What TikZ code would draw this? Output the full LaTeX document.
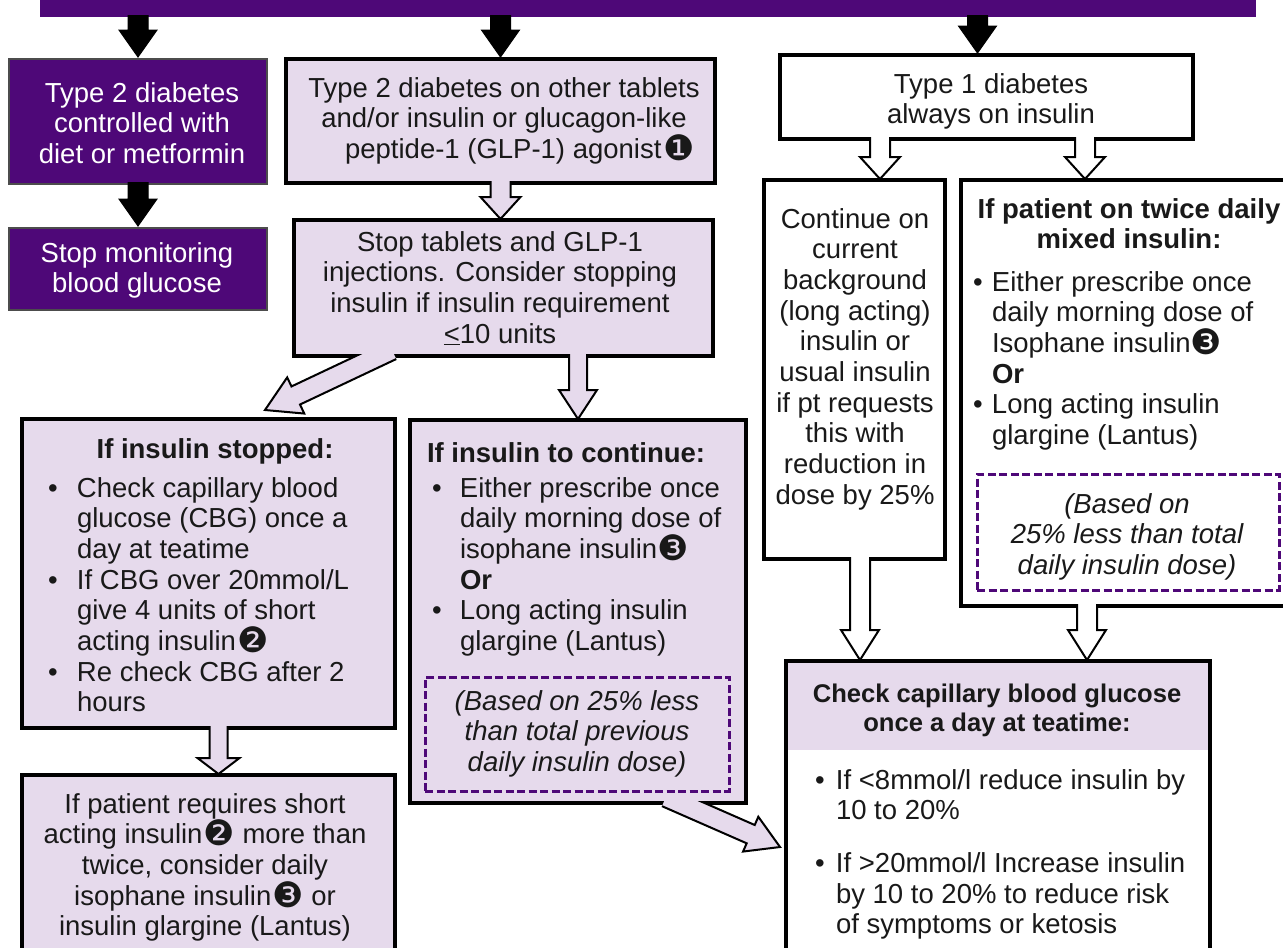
\documentclass[tikz,border=0pt]{standalone}
\usepackage{fontspec}
\setmainfont{Liberation Sans}
\newfontfamily\dingfont{DejaVu Sans}
\usetikzlibrary{calc}
\definecolor{dpurple}{RGB}{78,8,120}
\definecolor{lav}{RGB}{230,218,236}
\definecolor{ink}{RGB}{25,25,25}
\newcommand\fs{\fontsize{27.5}{30.7}\selectfont}
\newcommand\fsh{\fontsize{25.6}{29}\selectfont}
\newcommand\dg[1]{\smash{\raisebox{-2pt}{\fontsize{35}{30.7}\dingfont #1}}}
\newcommand\bu[1]{\makebox[#1][l]{\textbullet}}
\newcommand\ctab[1]{\begin{tabular}[t]{@{}c@{}}#1\end{tabular}}
\newcommand\btab[1]{\begin{tabular}[t]{@{}l@{}l@{}}#1\end{tabular}}
% #1 style, #2 start, #3 tip, #4 half shaft, #5 half head, #6 head length
\newcommand\blockarr[6]{%
  \coordinate (bas) at (#2);
  \coordinate (bae) at (#3);
  \coordinate (bah) at ($(bae)!#6pt!(bas)$);
  \filldraw[#1] ($(bas)!#4pt!90:(bae)$) -- ($(bah)!#4pt!90:(bae)$) -- ($(bah)!#5pt!90:(bae)$) -- (bae) -- ($(bah)!#5pt!-90:(bae)$) -- ($(bah)!#4pt!-90:(bae)$) -- ($(bas)!#4pt!-90:(bae)$);
}
\begin{document}
\begin{tikzpicture}[x=1pt,y=-1pt,
  boxbase/.style={inner sep=0pt, outer sep=0pt, anchor=north west},
  lbox/.style={boxbase, draw=black, line width=4pt, fill=lav},
  wbox/.style={boxbase, draw=black, line width=4pt, fill=white},
  pbox/.style={boxbase, draw=black!70, line width=1.2pt, fill=dpurple},
  dbox/.style={boxbase, draw=dpurple, line width=3pt, dash pattern=on 8pt off 3.5pt},
  blk/.style={fill=black, draw=black, line width=1pt},
  hol/.style={fill=lav, draw=black, line width=2pt, line join=miter},
  wht/.style={fill=white, draw=black, line width=2pt, line join=miter},
  txt/.style={inner sep=0pt, outer sep=0pt, font=\fs, anchor=base, text=ink},
  txtl/.style={txt, anchor=base west}]
\useasboundingbox (0,0) rectangle (1283,948);

% top bar
\node[boxbase, fill=dpurple, minimum width=1216pt, minimum height=27pt] (bar) at (40,-10) {};

% boxes
\node[pbox, minimum width=258pt, minimum height=125pt] (A) at (9,59) {};
\node[pbox, minimum width=258pt, minimum height=82pt] (B) at (9,228) {};
\node[lbox, minimum width=429pt, minimum height=124pt] (C) at (286,59) {};
\node[lbox, minimum width=419pt, minimum height=136pt] (D) at (294,220) {};
\node[lbox, minimum width=373pt, minimum height=309pt] (E) at (22,419) {};
\node[lbox, minimum width=336pt, minimum height=383pt] (F) at (410,420) {};
\node[lbox, minimum width=373pt, minimum height=200pt] (G) at (22,775) {};
\node[wbox, minimum width=413pt, minimum height=84pt] (I) at (780,55) {};
\node[wbox, minimum width=181pt, minimum height=379pt] (J) at (764,180) {};
\node[wbox, minimum width=340pt, minimum height=426pt] (K) at (961,180) {};
\node[wbox, minimum width=424pt, minimum height=300pt,
  path picture={\fill[lav] (path picture bounding box.north west) rectangle ($(path picture bounding box.north east)+(0,89)$);}] (H) at (786,661) {};
\node[dbox, minimum width=304pt, minimum height=114pt] (Fd) at (425,677) {};
\node[dbox, minimum width=302pt, minimum height=116pt] (Kd) at (977,474) {};

% solid black arrows
\blockarr{blk}{$(bar.south -| A.north)+(0,-2)$}{$(A.north)+(0,-2)$}{10}{19}{27}
\blockarr{blk}{$(bar.south -| C.north)+(0,-2)$}{$(C.north)+(0,-2)$}{10}{19}{27}
\blockarr{blk}{$(bar.south -| I.north)+(-9,-2)$}{$(I.north)+(-9,-2)$}{10}{19}{27}
\blockarr{blk}{$(A.south)+(0,-2)$}{$(B.north)+(0,-2)$}{10}{19}{27}

% hollow arrows
\blockarr{hol}{$(C.south)+(0,-2)$}{$(C.south |- D.north)+(0,-1)$}{10}{20}{22}
\blockarr{hol}{$(F.north |- D.south)+(0,-2)$}{$(F.north)+(0,-1)$}{9}{19}{29}
\begin{scope}
  \clip ($(D.south west)+(-300,-2)$) rectangle ($(D.south east)+(300,200)$);
  \blockarr{hol}{$(D.south west)+(98,-6)$}{$(E.north west)+(243,-9)$}{10}{20}{34}
\end{scope}
\blockarr{hol}{$(E.south)+(10,-2)$}{$(G.north)+(10,-1)$}{9}{21}{16}
\begin{scope}
  \clip ($(F.south west)+(-100,-2)$) rectangle ($(F.south east)+(200,150)$);
  \blockarr{hol}{$(F.south west)+(256,-6)$}{$(H.north west)+(-6,186)$}{10}{19}{32}
\end{scope}
\coordinate (ij) at ($(I.south west)+(100,0)$);
\coordinate (ik) at ($(I.south west)+(305,0)$);
\coordinate (jh) at ($(J.south west)+(96,0)$);
\coordinate (kh) at ($(K.south west)+(126,0)$);
\blockarr{wht}{$(ij)+(0,-2)$}{$(ij |- J.north)+(0,-1)$}{10}{20}{22}
\blockarr{wht}{$(ik)+(0,-2)$}{$(ik |- K.north)+(0,-1)$}{10}{20}{22}
\blockarr{wht}{$(jh)+(0,-2)$}{$(jh |- H.north)+(0,-1)$}{10}{19}{30}
\blockarr{wht}{$(kh)+(0,-2)$}{$(kh |- H.north)+(0,-1)$}{10}{19}{30}

% texts
\node[txt, text=white] (At) at (142,102) {\ctab{Type 2 diabetes\\controlled with\\diet or metformin}};
\node[txt, text=white] (Bt) at (137,262) {\ctab{Stop monitoring\\blood glucose}};
\node[txt] (Ct) at (504,97) {\ctab{Type 2 diabetes on other tablets\\and/or insulin or glucagon-like\\\hspace*{32pt}peptide-1 (GLP-1) agonist\hspace{2pt}\dg{❶}}};
\node[txt] (Dt) at (500,251) {\ctab{Stop tablets and GLP-1\\injections. Consider stopping\\insulin if insulin requirement\\\underline{<}10 units}};
\node[txt, font=\fs\bfseries] (Eh) at (215,458) {If insulin stopped:};
\node[txtl] (Eb) at (48,497) {\btab{\bu{29pt}&Check capillary blood\\&glucose (CBG) once a\\&day at teatime\\\bu{29pt}&If CBG over 20mmol/L\\&give 4 units of short\\&acting insulin\hspace{2pt}\dg{❷}\\\bu{29pt}&Re check CBG after 2\\&hours}};
\node[txtl, font=\fs\bfseries] (Fh) at (427,462) {If insulin to continue:};
\node[txtl] (Fb) at (432,497) {\btab{\bu{28pt}&Either prescribe once\\&daily morning dose of\\&isophane insulin\dg{❸}\\&\textbf{Or}\\\bu{28pt}&Long acting insulin\\&glargine (Lantus)}};
\node[txt, font=\fs\itshape] (Fdt) at (577,710) {\ctab{(Based on 25\% less\\than total previous\\daily insulin dose)}};
\node[txt] (Gt) at (205,813) {\ctab{If patient requires short\\acting insulin\hspace{1pt}\dg{❷} more than\\twice, consider daily\\isophane insulin\hspace{1pt}\dg{❸} or\\insulin glargine (Lantus)}};
\node[txt] (It) at (991,93) {\ctab{Type 1 diabetes\\always on insulin}};
\node[txt] (Jt) at (855,228) {\ctab{Continue on\\current\\background\\(long acting)\\insulin or\\usual insulin\\if pt requests\\this with\\reduction in\\dose by 25\%}};
\node[txt, font=\fs\bfseries] (Kh) at (1129,218) {\ctab{If patient on twice daily\\mixed insulin:}};
\node[txtl] (Kb) at (973,291) {\btab{\bu{19pt}&Either prescribe once\\&daily morning dose of\\&Isophane insulin\dg{❸}\\&\textbf{Or}\\\bu{19pt}&Long acting insulin\\&glargine (Lantus)}};
\node[txt, font=\fs\itshape] (Kdt) at (1127,513) {\ctab{(Based on\\25\% less than total\\daily insulin dose)}};
\node[txt, font=\fsh\bfseries] (Hh) at (997,702) {\ctab{Check capillary blood glucose\\once a day at teatime:}};
\node[txtl] (Hb) at (815,789) {\btab{\bu{21pt}&If <8mmol/l reduce insulin by\\&10 to 20\%\\[22pt]\bu{21pt}&If >20mmol/l Increase insulin\\&by 10 to 20\% to reduce risk\\&of symptoms or ketosis}};
\end{tikzpicture}
\end{document}
